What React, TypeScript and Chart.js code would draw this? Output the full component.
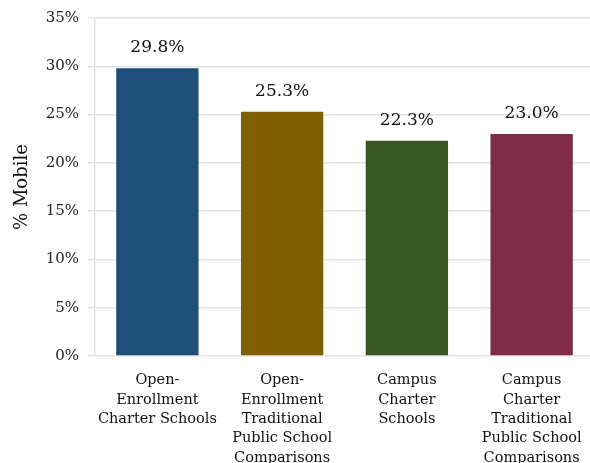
import React, { useEffect, useRef } from "react";
import { Chart, registerables } from "chart.js";

Chart.register(...registerables);

const categories: string[][] = [
  ["Open-", "Enrollment", "Charter Schools"],
  ["Open-", "Enrollment", "Traditional", "Public School", "Comparisons"],
  ["Campus", "Charter", "Schools"],
  ["Campus", "Charter", "Traditional", "Public School", "Comparisons"],
];
const values: number[] = [29.8, 25.3, 22.3, 23.0];
const barColors: string[] = ["#1F4E78", "#7F6000", "#385723", "#7E2C48"];
const yTicks: number[] = [0, 5, 10, 15, 20, 25, 30, 35];
const yTitle = "% Mobile";

const FONT = "'DejaVu Serif', serif";
const CANVAS_W = 594;
const CANVAS_H = 480;

const valueLabels = {
  id: "valueLabels",
  afterDatasetsDraw(chart: any) {
    const ctx = chart.ctx;
    const meta = chart.getDatasetMeta(0);
    ctx.save();
    ctx.font = `17px ${FONT}`;
    ctx.fillStyle = "#111";
    ctx.textAlign = "center";
    ctx.textBaseline = "bottom";
    meta.data.forEach((bar: any, i: number) => {
      ctx.fillText(values[i].toFixed(1) + "%", bar.x, bar.y - 12);
    });
    ctx.restore();
  },
};

export default function App() {
  const ref = useRef<HTMLCanvasElement>(null);
  useEffect(() => {
    if (!ref.current) return;
    const chart = new Chart(ref.current, {
      type: "bar",
      data: {
        labels: categories,
        datasets: [
          {
            data: values,
            backgroundColor: barColors,
            borderWidth: 0,
            categoryPercentage: 1,
            barPercentage: 0.66,
          },
        ],
      },
      options: {
        animation: false,
        responsive: false,
        layout: { padding: { top: 18, right: 0, left: 0, bottom: 0 } },
        plugins: { legend: { display: false }, tooltip: { enabled: false } },
        scales: {
          x: {
            grid: { display: false },
            border: { display: false },
            ticks: {
              color: "#111",
              font: { family: FONT, size: 14.5, lineHeight: 1.33 },
              padding: 7,
              maxRotation: 0,
              autoSkip: false,
            },
            afterFit(scale: any) {
              scale.height = CANVAS_H - 356;
            },
          },
          y: {
            min: 0,
            max: 35,
            afterBuildTicks(scale: any) {
              scale.ticks = yTicks.map((v) => ({ value: v }));
            },
            grid: { color: "#e3e3e3", lineWidth: 1.5, tickLength: 7 },
            border: { color: "#e3e3e3", width: 1.5 },
            ticks: {
              color: "#222",
              font: { family: FONT, size: 15 },
              padding: 9,
              callback: (v: any) => v + "%",
            },
            title: {
              display: true,
              text: yTitle,
              color: "#111",
              font: { family: FONT, size: 18 },
              padding: { top: 12, bottom: 0 },
            },
            afterFit(scale: any) {
              scale.width = 95;
            },
          },
        },
      },
      plugins: [valueLabels],
    });
    return () => chart.destroy();
  }, []);
  return (
    <div
      style={{
        position: "fixed",
        left: 0,
        top: 0,
        width: 590,
        height: 463,
        overflow: "hidden",
        background: "#fff",
      }}
    >
      <canvas ref={ref} width={CANVAS_W} height={CANVAS_H} style={{ display: "block" }} />
    </div>
  );
}
